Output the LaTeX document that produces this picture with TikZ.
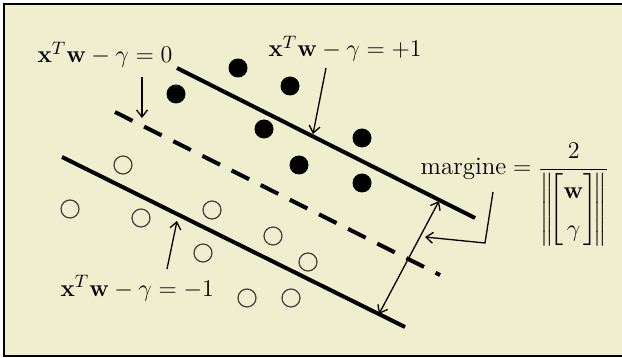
\documentclass[tikz,border=0pt]{standalone}
\usetikzlibrary{arrows.meta}
\usepackage{amsmath}
\usepackage{bm}
\definecolor{crema}{RGB}{239,239,208}

\begin{document}
\begin{tikzpicture}[x=0.5pt,y=-0.5pt,line width=0.65pt,
  >={Straight Barb[length=3.5pt,width=5.5pt]},
  lbl/.style={inner sep=0pt,font=\fontsize{12.5}{15}\selectfont},
  pieno/.style={circle,fill=black,inner sep=0pt,minimum size=9.5pt},
  vuoto/.style={circle,draw=black!75,line width=0.6pt,inner sep=0pt,minimum size=9pt},
  iper/.style={line width=2pt}]
% punto: \pp{nome}{x}{y} pieno, \pv{nome}{x}{y} vuoto
\newcommand{\pp}[3]{\node[pieno] (#1) at (#2,#3) {};}
\newcommand{\pv}[3]{\node[vuoto] (#1) at (#2,#3) {};}
\useasboundingbox (0,0) rectangle (622,358);
% ---------- cornice ----------
\draw[line width=1pt,fill=crema] (4,4) rectangle (624,356);
% ---------- iperpiani ----------
\coordinate (su1) at (177,68);  \coordinate (su2) at (475,218);
\coordinate (me1) at (115,112); \coordinate (me2) at (440,275);
\coordinate (giu1) at (62,157); \coordinate (giu2) at (405,327);
\draw[iper] (su1) -- (su2);
\draw[iper,dash pattern=on 9.8pt off 6.5pt] (me1) -- (me2);
\draw[iper] (giu1) -- (giu2);
% ---------- classe +1 ----------
\pp{a1}{238}{68}  \pp{a2}{290}{86}  \pp{a3}{176}{94}
\pp{a4}{264}{129} \pp{a5}{362}{138} \pp{a6}{299}{165}
\pp{a7}{362}{183}
% ---------- classe -1 ----------
\pv{b1}{123}{165} \pv{b2}{70}{209}  \pv{b3}{141}{218}
\pv{b4}{212}{210} \pv{b5}{273}{236} \pv{b6}{203}{253}
\pv{b7}{308}{262} \pv{b8}{247}{298} \pv{b9}{291}{298}
% ---------- etichette ----------
\node[lbl,anchor=base west] (eq0) at (37,63) {$\mathbf{x}^T\mathbf{w}-\gamma=0$};
\node[lbl,anchor=base west] (eqp) at (268,57) {$\mathbf{x}^T\mathbf{w}-\gamma=+1$};
\node[lbl,anchor=base west] (eqm) at (60,296) {$\mathbf{x}^T\mathbf{w}-\gamma=-1$};
\node[lbl,anchor=base west] (marg) at (420,175)
  {margine${}=\dfrac{2}{\renewcommand{\arraystretch}{1.25}\setlength{\arraycolsep}{2pt}%
   \left\|\!\begin{bmatrix}\mathbf{w}\\ \gamma\end{bmatrix}\!\right\|}$};
% ---------- frecce ----------
\coordinate (f0) at (142,77);  \coordinate (t0) at (142,118);
\coordinate (fp) at (326,68);  \coordinate (tp) at (313,134);
\coordinate (fm) at (167,269); \coordinate (tm) at (177,221);
\coordinate (ms) at (439,201); \coordinate (mg) at (379,314);
\coordinate (mk1) at (493,192); \coordinate (mk2) at (485,243); \coordinate (mt) at (425,237);
\draw[->] (f0) -- (t0);
\draw[->] (fp) -- (tp);
\draw[->] (fm) -- (tm);
\draw[<->] (ms) -- (mg);
\draw[->] (mk1) -- (mk2) -- (mt);
\end{tikzpicture}
\end{document}
